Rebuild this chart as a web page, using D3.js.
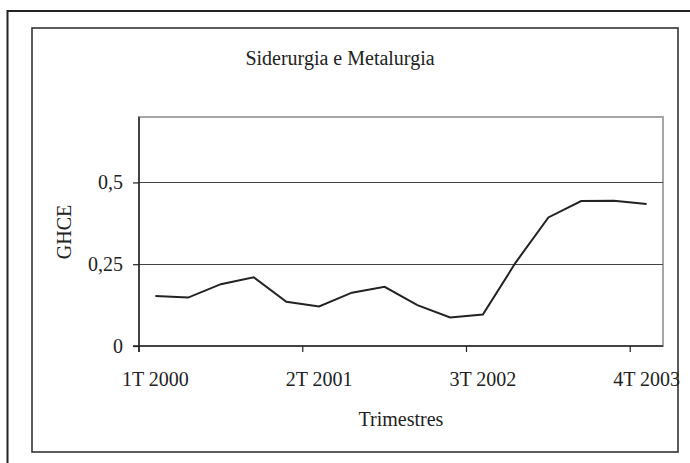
<!DOCTYPE html>
<html>
<head>
<meta charset="utf-8">
<script src="https://cdn.jsdelivr.net/npm/d3@7"></script>
<style>
  body { margin: 0; background: #fff; }
  text { font-family: "Liberation Serif", "Times New Roman", serif; fill: #222; }
</style>
</head>
<body>
<div id="chart"></div>
<script>
// quarters, 2000-2003
var quarters = ["1T 2000", "2T 2000", "3T 2000", "4T 2000",
                "1T 2001", "2T 2001", "3T 2001", "4T 2001",
                "1T 2002", "2T 2002", "3T 2002", "4T 2002",
                "1T 2003", "2T 2003", "3T 2003", "4T 2003"];
var ghce = [0.153, 0.148, 0.189, 0.210, 0.135, 0.121, 0.163, 0.181,
            0.125, 0.087, 0.096, 0.255, 0.393, 0.443, 0.444, 0.434];
var shownLabels = ["1T 2000", "2T 2001", "3T 2002", "4T 2003"];
var yTicks = [0, 0.25, 0.5];

var width = 690, height = 463;
var plot = { left: 139, right: 663, top: 117, bottom: 346 };

var svg = d3.select("#chart").append("svg")
    .attr("width", width)
    .attr("height", height);

// outer frame (runs off the page at right and bottom)
svg.append("path")
    .attr("d", "M7.5,470 V11 H700")
    .attr("fill", "none")
    .attr("stroke", "#222")
    .attr("stroke-width", 2);

// chart area box
svg.append("rect")
    .attr("x", 32).attr("y", 28)
    .attr("width", 678 - 32).attr("height", 452 - 28)
    .attr("fill", "none")
    .attr("stroke", "#333")
    .attr("stroke-width", 1.6);

var x = d3.scaleBand()
    .domain(quarters)
    .range([plot.left, plot.right])
    .padding(0);

var y = d3.scaleLinear()
    .domain([0, 0.7])
    .range([plot.bottom, plot.top]);

// plot area border
svg.append("rect")
    .attr("x", plot.left).attr("y", plot.top)
    .attr("width", plot.right - plot.left).attr("height", plot.bottom - plot.top)
    .attr("fill", "none")
    .attr("stroke", "#a6a6a6")
    .attr("stroke-width", 2);

// gridlines
svg.selectAll(".grid")
    .data(yTicks.filter(function(d) { return d > 0; }))
    .enter().append("line")
    .attr("class", "grid")
    .attr("x1", plot.left).attr("x2", plot.right)
    .attr("y1", function(d) { return Math.round(y(d)) + 0.5; })
    .attr("y2", function(d) { return Math.round(y(d)) + 0.5; })
    .attr("stroke", "#444")
    .attr("stroke-width", 1.2);

// y axis
var yAxis = svg.append("g")
    .attr("transform", "translate(" + plot.left + ",0)")
    .call(d3.axisLeft(y)
        .tickValues(yTicks)
        .tickSize(6)
        .tickPadding(10)
        .tickFormat(function(d) { return String(d).replace(".", ","); }));
yAxis.select(".domain").remove();
yAxis.selectAll("line").attr("stroke", "#222").attr("stroke-width", 1.2);
yAxis.selectAll("text")
    .style("font-family", "'Liberation Serif', serif")
    .style("font-size", "20px")
    .attr("fill", "#222");

svg.append("line")
    .attr("x1", plot.left).attr("x2", plot.left)
    .attr("y1", plot.top).attr("y2", plot.bottom + 6)
    .attr("stroke", "#222").attr("stroke-width", 1.5);

// x axis
svg.append("line")
    .attr("x1", plot.left - 6).attr("x2", plot.right)
    .attr("y1", plot.bottom).attr("y2", plot.bottom)
    .attr("stroke", "#222").attr("stroke-width", 1.5);

svg.selectAll(".xtick")
    .data(shownLabels)
    .enter().append("line")
    .attr("class", "xtick")
    .attr("x1", function(d) { return x(d); })
    .attr("x2", function(d) { return x(d); })
    .attr("y1", plot.bottom)
    .attr("y2", plot.bottom + 6)
    .attr("stroke", "#222").attr("stroke-width", 1.2);

svg.selectAll(".xlabel")
    .data(shownLabels)
    .enter().append("text")
    .attr("class", "xlabel")
    .attr("x", function(d) { return x(d) + x.bandwidth() / 2; })
    .attr("y", 386)
    .attr("text-anchor", "middle")
    .style("font-size", "20px")
    .text(function(d) { return d; });

// the series
var line = d3.line()
    .x(function(d, i) { return x(quarters[i]) + x.bandwidth() / 2; })
    .y(function(d) { return y(d); });

svg.append("path")
    .datum(ghce)
    .attr("d", line)
    .attr("fill", "none")
    .attr("stroke", "#222")
    .attr("stroke-width", 2)
    .attr("stroke-linejoin", "miter");

// titles
svg.append("text")
    .attr("x", 340).attr("y", 65)
    .attr("text-anchor", "middle")
    .style("font-size", "20px")
    .text("Siderurgia e Metalurgia");

svg.append("text")
    .attr("x", (plot.left + plot.right) / 2).attr("y", 426)
    .attr("text-anchor", "middle")
    .style("font-size", "20px")
    .text("Trimestres");

svg.append("text")
    .attr("transform", "translate(71,232) rotate(-90)")
    .attr("text-anchor", "middle")
    .style("font-size", "20px")
    .text("GHCE");
</script>
</body>
</html>
